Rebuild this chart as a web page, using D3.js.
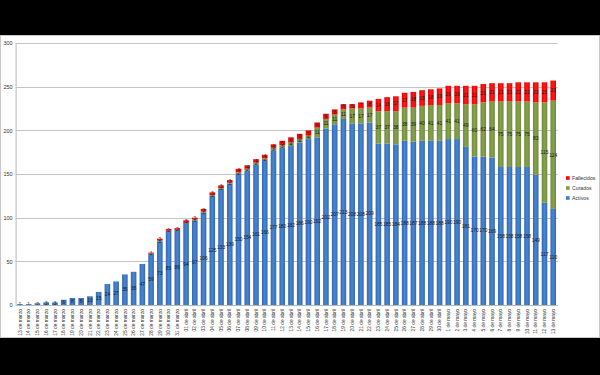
<!DOCTYPE html>
<html>
<head>
<meta charset="utf-8">
<script src="https://cdn.jsdelivr.net/npm/d3@7"></script>
<style>
  html, body { margin: 0; padding: 0; background: #000; }
  svg { display: block; font-family: "Liberation Sans", Arial, sans-serif; }
</style>
</head>
<body>
<div class="chart-wrap"></div>
<script>
// dates shown on the x axis
var fechas = [
  "13 de marzo","14 de marzo","15 de marzo","16 de marzo","17 de marzo","18 de marzo","19 de marzo",
  "20 de marzo","21 de marzo","22 de marzo","23 de marzo","24 de marzo","25 de marzo","26 de marzo",
  "27 de marzo","28 de marzo","29 de marzo","30 de marzo","31 de marzo",
  "01 de abril","02 de abril","03 de abril","04 de abril","05 de abril","06 de abril","07 de abril",
  "08 de abril","09 de abril","10 de abril","11 de abril","12 de abril","13 de abril","14 de abril",
  "15 de abril","16 de abril","17 de abril","18 de abril","19 de abril","20 de abril","21 de abril",
  "22 de abril","23 de abril","24 de abril","25 de abril","26 de abril","27 de abril","28 de abril",
  "29 de abril","30 de abril",
  "1 de mayo","2 de mayo","3 de mayo","4 de mayo","5 de mayo","6 de mayo","7 de mayo",
  "8 de mayo","9 de mayo","10 de mayo","11 de mayo","12 de mayo","13 de mayo"
];

var activos = [1,1,2,3,3,6,8,8,10,15,24,27,35,38,47,59,73,85,86,
  94,97,106,125,133,139,150,154,161,166,177,180,182,186,190,192,202,207,213,208,208,209,
  185,185,184,188,187,188,188,188,
  190,190,181,170,170,169,158,158,158,158,149,117,110];

var curados = [0,0,0,0,0,0,0,0,0,0,0,0,0,0,0,0,1,0,0,
  0,1,1,1,1,1,2,2,2,2,3,3,4,4,4,11,11,11,11,17,17,17,
  37,37,38,38,39,40,41,41,
  41,41,49,60,62,64,75,75,75,75,83,115,124];

var fallecidos = [0,0,0,0,0,0,0,0,0,0,0,0,0,0,0,1,2,2,2,
  3,2,3,3,3,3,4,4,4,4,4,5,6,6,6,6,6,6,6,5,7,8,
  14,16,17,17,18,18,18,19,
  20,20,21,21,21,21,21,21,22,22,23,23,23];

var yTicks = [0, 50, 100, 150, 200, 250, 300];

var series = [
  {key: "activos", name: "Activos", values: activos, color: "url(#gBlue)", swatch: "#3f7bca"},
  {key: "curados", name: "Curados", values: curados, color: "url(#gGreen)", swatch: "#7f9a48"},
  {key: "fallecidos", name: "Fallecidos", values: fallecidos, color: "url(#gRed)", swatch: "#ff0000"}
];

var W = 600, H = 375,
    plot = {left: 15.6, right: 557.6, top: 43, bottom: 305};

var svg = d3.select(".chart-wrap").append("svg")
    .attr("width", W).attr("height", H);

// black letterbox + white chart area
svg.append("rect").attr("width", W).attr("height", H).attr("fill", "#000");
svg.append("rect")
    .attr("x", 0.5).attr("y", 35.5).attr("width", W - 1).attr("height", 302)
    .attr("fill", "#fff").attr("stroke", "#c8c8c8");

// bar gradients, excel style
var defs = svg.append("defs");
function grad(id, edge, mid) {
  var g = defs.append("linearGradient").attr("id", id)
      .attr("x1", "0").attr("x2", "1").attr("y1", "0").attr("y2", "0");
  g.append("stop").attr("offset", "0%").attr("stop-color", edge);
  g.append("stop").attr("offset", "50%").attr("stop-color", mid);
  g.append("stop").attr("offset", "100%").attr("stop-color", edge);
}
grad("gBlue", "#3567ad", "#4787d6");
grad("gGreen", "#708a3c", "#86a24d");
grad("gRed", "#e80000", "#ff1a1a");

var x = d3.scaleBand().domain(fechas).range([plot.left, plot.right]).paddingInner(0.36).paddingOuter(0.18);
var y = d3.scaleLinear().domain([0, 300]).range([plot.bottom, plot.top]);

// gridlines
svg.append("g").selectAll("line")
    .data(yTicks.filter(function(d) { return d > 0; }))
  .enter().append("line")
    .attr("x1", plot.left).attr("x2", plot.right)
    .attr("y1", function(d) { return Math.round(y(d)) + 0.5; })
    .attr("y2", function(d) { return Math.round(y(d)) + 0.5; })
    .attr("stroke", "#c4c4c4").attr("stroke-width", 1);

// stacked data
var rows = fechas.map(function(f, i) {
  return {fecha: f, activos: activos[i], curados: curados[i], fallecidos: fallecidos[i]};
});
var stack = d3.stack().keys(series.map(function(s) { return s.key; }));
var layers = stack(rows);

var layerG = svg.append("g").selectAll("g")
    .data(layers)
  .enter().append("g")
    .attr("fill", function(d, i) { return series[i].color; });

layerG.selectAll("rect")
    .data(function(d) { return d; })
  .enter().append("rect")
    .attr("x", function(d) { return x(d.data.fecha); })
    .attr("width", x.bandwidth())
    .attr("y", function(d) { return y(d[1]); })
    .attr("height", function(d) { return y(d[0]) - y(d[1]); });

// data labels centred in each segment (they crowd, as in the original)
layerG.selectAll("text")
    .data(function(d) { return d.filter(function(p) { return p[1] - p[0] > 0; }); })
  .enter().append("text")
    .attr("x", function(d) { return x(d.data.fecha) + x.bandwidth() / 2; })
    .attr("y", function(d) { return (y(d[0]) + y(d[1])) / 2; })
    .attr("dy", "0.35em")
    .attr("text-anchor", "middle")
    .attr("fill", "#1a1a1a")
    .style("font-size", "4.9px")
    .text(function(d) { return d[1] - d[0]; });

// axes
var yAxis = d3.axisLeft(y).tickValues(yTicks).tickSize(0).tickPadding(3);
var gy = svg.append("g").attr("transform", "translate(" + plot.left + ",0)").call(yAxis);
gy.select(".domain").attr("stroke", "#b8b8b8");
gy.selectAll("text").style("font-size", "5.5px").attr("fill", "#333").attr("font-family", null);

var xAxis = d3.axisBottom(x).tickSize(0).tickPadding(0);
var gx = svg.append("g").attr("transform", "translate(0," + plot.bottom + ")").call(xAxis);
gx.select(".domain").attr("stroke", "#b8b8b8");
gx.selectAll(".tick text")
    .style("font-size", "4.8px").attr("fill", "#333").attr("font-family", null)
    .attr("text-anchor", "end")
    .attr("dy", "0.35em")
    .attr("x", -4).attr("y", 0)
    .attr("transform", "rotate(-90)");

// legend
var legend = svg.append("g").selectAll("g")
    .data(series.slice().reverse())
  .enter().append("g")
    .attr("transform", function(d, i) { return "translate(566," + (178 + i * 10) + ")"; });
legend.append("rect").attr("x", 0).attr("y", -1.8).attr("width", 3.6).attr("height", 3.6)
    .attr("fill", function(d) { return d.swatch; });
legend.append("text").attr("x", 6).attr("dy", "0.35em")
    .style("font-size", "5.2px").attr("fill", "#333")
    .text(function(d) { return d.name; });
</script>
</body>
</html>
